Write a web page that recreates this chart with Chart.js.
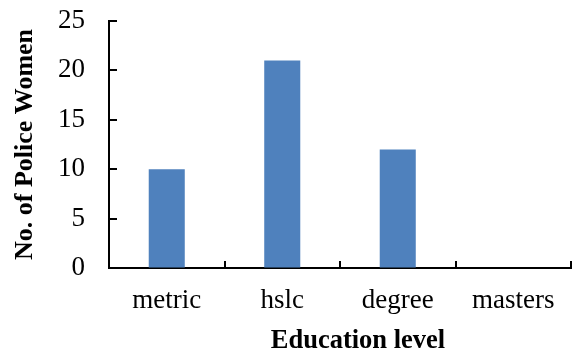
<!DOCTYPE html>
<html>
<head>
<meta charset="utf-8">
<script src="https://cdn.jsdelivr.net/npm/chart.js@4/dist/chart.umd.min.js"></script>
<style>
  html, body { margin: 0; padding: 0; background: #fff; }
  #wrap { width: 576px; height: 353px; }
</style>
</head>
<body>
<div id="wrap"><canvas id="c" width="576" height="353"></canvas></div>
<script>
// Education level of police women
const categories = ['metric', 'hslc', 'degree', 'masters'];
const counts = [10, 21, 12, 0];
const yMin = 0;
const yMax = 25;
const yStep = 5;

const xTitle = 'Education level';
const yTitle = 'No. of Police Women';

const SERIF = '"Liberation Serif", "Times New Roman", serif';

// Short tick marks drawn on the inner side of both axes
const innerTicks = {
  id: 'innerTicks',
  afterDatasetsDraw(chart) {
    const { ctx, chartArea, scales } = chart;
    const xs = scales.x, ys = scales.y;
    ctx.save();
    ctx.strokeStyle = '#000';
    ctx.lineWidth = 2;
    ctx.beginPath();
    ys.ticks.forEach(t => {
      const y = Math.round(ys.getPixelForValue(t.value));
      ctx.moveTo(chartArea.left, y);
      ctx.lineTo(chartArea.left + 8, y);
    });
    const step = xs.getPixelForValue(1) - xs.getPixelForValue(0);
    for (let i = 1; i <= categories.length; i++) {
      const x = Math.round(xs.getPixelForValue(i) - step / 2);
      ctx.moveTo(x, chartArea.bottom);
      ctx.lineTo(x, chartArea.bottom - 7);
    }
    ctx.stroke();
    ctx.restore();
  }
};

// Horizontal axis title
const xAxisTitle = {
  id: 'xAxisTitle',
  afterDraw(chart) {
    const { ctx, chartArea } = chart;
    ctx.save();
    ctx.fillStyle = '#000';
    ctx.font = 'bold 26.5px ' + SERIF;
    ctx.textAlign = 'center';
    ctx.textBaseline = 'alphabetic';
    ctx.fillText(xTitle, chartArea.left + 249, 348);
    ctx.restore();
  }
};

new Chart(document.getElementById('c'), {
  type: 'bar',
  data: {
    labels: categories,
    datasets: [{
      data: counts,
      backgroundColor: '#4F81BD',
      borderWidth: 0,
      categoryPercentage: 1,
      barPercentage: 0.312
    }]
  },
  options: {
    responsive: false,
    animation: false,
    events: [],
    layout: { padding: { top: 21, right: 5, bottom: 0, left: 0 } },
    plugins: {
      legend: { display: false },
      tooltip: { enabled: false },
      title: { display: false }
    },
    scales: {
      x: {
        grid: { display: true, drawOnChartArea: false, drawTicks: false },
        border: { display: true, color: '#000', width: 2 },
        ticks: {
          color: '#000',
          padding: 17,
          font: { family: SERIF, size: 27 },
          maxRotation: 0
        },
        afterFit(scale) {
          scale.height = 85;
          scale.paddingLeft = 0;
          scale.paddingRight = 0;
        }
      },
      y: {
        min: yMin,
        max: yMax,
        grid: { display: true, drawOnChartArea: false, drawTicks: false },
        border: { display: true, color: '#000', width: 2 },
        ticks: {
          stepSize: yStep,
          color: '#000',
          padding: 24,
          font: { family: SERIF, size: 27 }
        },
        title: {
          display: true,
          text: yTitle,
          color: '#000',
          font: { family: SERIF, size: 26, weight: 'bold' },
          padding: { top: 10, bottom: 0 }
        },
        afterFit(scale) {
          scale.width = 109;
          scale.paddingTop = 0;
          scale.paddingBottom = 0;
        }
      }
    }
  },
  plugins: [innerTicks, xAxisTitle]
});
</script>
</body>
</html>
